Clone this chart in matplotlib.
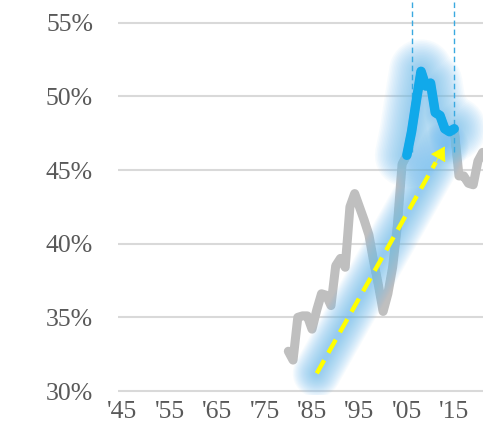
import numpy as np
import matplotlib
matplotlib.use("Agg")
import matplotlib.pyplot as plt

# share of total, annual
years = list(range(1980, 2022))
share = [32.7, 32.1, 35.0, 35.1, 35.1, 34.2, 35.5, 36.6, 36.5, 35.8,
         38.5, 39.0, 38.4, 42.5, 43.4, 42.5, 41.6, 40.6, 38.8, 37.2,
         35.4, 36.6, 38.4, 41.2, 45.4, 46.0, 47.6, 49.7, 51.7, 50.7,
         50.9, 48.9, 48.7, 47.8, 47.6, 47.8, 44.6, 44.6, 44.1, 44.0,
         45.6, 46.2]

# highlighted period
hl_start, hl_end = 2005, 2015
marker_years = [2006, 2015]
marker_bottom = 46.2

# trend arrow (year, pct)
arrow_tail = (1986.0, 31.2)
arrow_head = (2013.0, 46.6)

tick_years = [1945, 1955, 1965, 1975, 1985, 1995, 2005, 2015]
tick_labels = ["'45", "'55", "'65", "'75", "'85", "'95", "'05", "'15"]
y_ticks = [30, 35, 40, 45, 50, 55]

W, H = 483, 437
fig = plt.figure(figsize=(W / 100, H / 100), dpi=100)
ax = fig.add_axes([118 / W, 1 - 395 / H, 1 - 118 / W, 395 / H])

ax.set_xlim(1944.07, 2021.07)
ax.set_ylim(29.73, 56.54)

for s in ax.spines.values():
    s.set_visible(False)
ax.set_yticks(y_ticks)
ax.set_yticklabels([f"{v}%" for v in y_ticks])
ax.set_xticks(tick_years)
ax.set_xticklabels(tick_labels)
ax.tick_params(length=0, labelsize=18.5, labelcolor="#595959")
ax.tick_params(axis="y", pad=18)
ax.tick_params(axis="x", pad=4)
for lbl in ax.get_xticklabels() + ax.get_yticklabels():
    lbl.set_family("Liberation Serif")
ax.grid(axis="y", color="#d9d9d9", lw=1.5)
ax.set_axisbelow(True)

# base series
ax.plot(years, share, color="#bfbfbf", lw=6.5, solid_joinstyle="round",
        solid_capstyle="round", zorder=2)

i0, i1 = years.index(hl_start), years.index(hl_end)
hx, hy = years[i0:i1 + 1], share[i0:i1 + 1]

# soft halo: stacked translucent strokes
glow = "#6dbcf0"
for lw in np.linspace(4, 46, 20):
    ax.plot(hx, hy, color=glow, lw=lw, alpha=0.055, solid_capstyle="round",
            solid_joinstyle="round", zorder=3)
    ax.plot([arrow_tail[0], arrow_head[0]], [arrow_tail[1], arrow_head[1]],
            color=glow, lw=lw * 0.75, alpha=0.055, solid_capstyle="round",
            zorder=3)

ax.plot(hx, hy, color="#11a9ea", lw=6.8, solid_joinstyle="round",
        solid_capstyle="round", zorder=5)

ax.vlines(marker_years, marker_bottom, 56.54, colors="#3aa9e0", lw=1,
          linestyles=(0, (4, 2.5)), zorder=4)

# trend arrow: dashed shaft plus solid head
dx = arrow_head[0] - arrow_tail[0]
dy = arrow_head[1] - arrow_tail[1]
shaft_end = (arrow_tail[0] + dx * 0.93, arrow_tail[1] + dy * 0.93)
ax.plot([arrow_tail[0], shaft_end[0]], [arrow_tail[1], shaft_end[1]],
        color="#ffff00", lw=3.2, dashes=(3.4, 1.9), zorder=6)
ax.annotate("", xy=arrow_head, xytext=shaft_end,
            arrowprops=dict(arrowstyle="-|>,head_length=0.9,head_width=0.55",
                            color="#ffff00", lw=0.5, shrinkA=0, shrinkB=0),
            zorder=6)

fig.savefig("out.png", dpi=100)
